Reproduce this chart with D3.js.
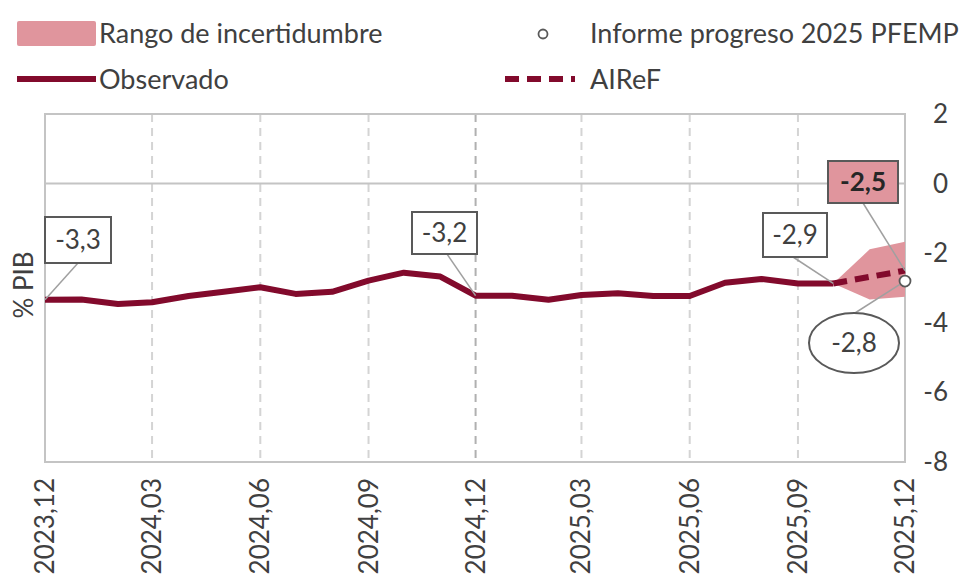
<!DOCTYPE html>
<html>
<head>
<meta charset="utf-8">
<script src="https://cdn.jsdelivr.net/npm/d3@7"></script>
<style>
  body { margin: 0; background: #fff; }
  text { font-family: Lato, 'Open Sans', sans-serif; fill: #404040; }
</style>
</head>
<body>
<script>
/* DATA */
var months = ['2023-12','2024-01','2024-02','2024-03','2024-04','2024-05','2024-06','2024-07','2024-08','2024-09','2024-10','2024-11','2024-12',
              '2025-01','2025-02','2025-03','2025-04','2025-05','2025-06','2025-07','2025-08','2025-09','2025-10','2025-11','2025-12'];
var observado = [-3.34,-3.33,-3.46,-3.41,-3.23,-3.11,-2.98,-3.17,-3.11,-2.79,-2.56,-2.67,-3.22,
                 -3.22,-3.34,-3.2,-3.15,-3.23,-3.23,-2.85,-2.74,-2.87,-2.87];
var airefMonths = ['2025-10','2025-11','2025-12'];
var airef = [-2.87,-2.68,-2.5];
var bandLow = [-2.87,-3.33,-3.25];
var bandHigh = [-2.87,-1.89,-1.67];
var informeMonth = '2025-12';
var informeValue = -2.8;
var tickMonths = ['2023-12','2024-03','2024-06','2024-09','2024-12','2025-03','2025-06','2025-09','2025-12'];
var yTicks = [2,0,-2,-4,-6,-8];

var lineColor = '#820a2c';
var bandColor = '#e0959d';
var gridColor = '#d4d4d4';
var borderColor = '#c4c4c4';
var fontSize = 26;
var legendFontSize = 27;

/* SETUP */
var width = 968, height = 577;
var plotLeft = 45, plotRight = 905, plotTop = 114, plotBottom = 462;

var parse = d3.timeParse('%Y-%m');
var x = d3.scaleTime()
    .domain([parse(months[0]), parse(months[months.length - 1])])
    .range([plotLeft, plotRight]);
var y = d3.scaleLinear().domain([-8, 2]).range([plotBottom, plotTop]);
var fmt = v => d3.format('.1f')(v).replace('.', ',').replace('\u2212', '-');

var svg = d3.select('body').append('svg')
    .attr('width', width)
    .attr('height', height);

// vertical dashed gridlines
svg.append('g').selectAll('line').data(tickMonths.slice(1, -1)).join('line')
    .attr('x1', d => x(parse(d))).attr('x2', d => x(parse(d)))
    .attr('y1', plotTop).attr('y2', plotBottom)
    .attr('stroke', d => d === '2024-12' ? '#b0b0b0' : gridColor)
    .attr('stroke-width', 2)
    .attr('stroke-dasharray', '8,6');

// zero line
svg.append('line')
    .attr('x1', plotLeft).attr('x2', plotRight)
    .attr('y1', y(0)).attr('y2', y(0))
    .attr('stroke', borderColor).attr('stroke-width', 2);

// plot border
svg.append('rect')
    .attr('x', plotLeft).attr('y', plotTop)
    .attr('width', plotRight - plotLeft).attr('height', plotBottom - plotTop)
    .attr('fill', 'none').attr('stroke', borderColor).attr('stroke-width', 2);

// uncertainty band
var bandData = airefMonths.map((m, i) => ({m: parse(m), lo: bandLow[i], hi: bandHigh[i]}));
svg.append('path')
    .datum(bandData)
    .attr('fill', bandColor)
    .attr('d', d3.area().x(d => x(d.m)).y0(d => y(d.lo)).y1(d => y(d.hi)));

// observed line
var obsData = observado.map((v, i) => ({m: parse(months[i]), v: v}));
var lineGen = d3.line().x(d => x(d.m)).y(d => y(d.v));
svg.append('path')
    .datum(obsData)
    .attr('fill', 'none')
    .attr('stroke', lineColor)
    .attr('stroke-width', 6)
    .attr('stroke-linejoin', 'round')
    .attr('d', lineGen);

// AIReF dashed
var airefData = airef.map((v, i) => ({m: parse(airefMonths[i]), v: v}));
svg.append('path')
    .datum(airefData)
    .attr('fill', 'none')
    .attr('stroke', lineColor)
    .attr('stroke-width', 6)
    .attr('stroke-dasharray', '14,8')
    .attr('d', lineGen);

// leader lines
function leader(x1, y1, x2, y2) {
    svg.append('line')
        .attr('x1', x1).attr('y1', y1).attr('x2', x2).attr('y2', y2)
        .attr('stroke', '#a0a0a0').attr('stroke-width', 1.5);
}
leader(78, 263, x(parse(months[0])), y(observado[0]));
leader(447, 254, x(parse('2024-12')), y(observado[12]));
leader(793, 257, x(parse('2025-10')), y(observado[22]));
leader(863, 203, x(parse('2025-12')), y(airef[2]));
leader(855, 313, x(parse(informeMonth)), y(informeValue));

// informe marker
svg.append('circle')
    .attr('cx', x(parse(informeMonth))).attr('cy', y(informeValue))
    .attr('r', 5.5)
    .attr('fill', '#fff').attr('stroke', '#595959').attr('stroke-width', 1.8);

// boxed labels
function boxLabel(x0, y0, w, h, txt, fill, bold) {
    svg.append('rect')
        .attr('x', x0).attr('y', y0).attr('width', w).attr('height', h)
        .attr('fill', fill).attr('stroke', '#595959').attr('stroke-width', 2);
    svg.append('text')
        .attr('x', x0 + w / 2).attr('y', y0 + h / 2 + 9)
        .attr('text-anchor', 'middle')
        .style('font-size', fontSize + 'px')
        .style('font-weight', bold ? 'bold' : 'normal')
        .style('fill', bold ? '#262626' : '#404040')
        .text(txt);
}
boxLabel(45, 217, 66, 46, fmt(observado[0]), '#fff');
boxLabel(412, 212, 65, 42, fmt(observado[12]), '#fff');
boxLabel(763, 213, 64, 44, fmt(observado[22]), '#fff');
boxLabel(828, 161, 70, 42, fmt(airef[2]), bandColor, true);

svg.append('ellipse')
    .attr('cx', 854).attr('cy', 343).attr('rx', 45).attr('ry', 30)
    .attr('fill', '#fff').attr('stroke', '#595959').attr('stroke-width', 2);
svg.append('text')
    .attr('x', 854).attr('y', 352)
    .attr('text-anchor', 'middle')
    .style('font-size', fontSize + 'px')
    .text(fmt(informeValue));

// y axis (right)
svg.append('g').selectAll('text').data(yTicks).join('text')
    .attr('x', 948).attr('y', d => y(d) + 9)
    .attr('text-anchor', 'end')
    .style('font-size', fontSize + 'px')
    .text(d => String(d));

// x axis labels rotated
svg.append('g').selectAll('text').data(tickMonths).join('text')
    .attr('transform', d => `translate(${x(parse(d)) + 9}, 478) rotate(-90)`)
    .attr('text-anchor', 'end')
    .style('font-size', fontSize + 'px')
    .text(d => d.replace('-', ','));

// y title
svg.append('text')
    .attr('transform', 'translate(33, 285) rotate(-90)')
    .attr('text-anchor', 'middle')
    .style('font-size', fontSize + 'px')
    .text('% PIB');

// legend
var legend = svg.append('g');
legend.append('rect')
    .attr('x', 17).attr('y', 21).attr('width', 79).attr('height', 25)
    .attr('rx', 2).attr('fill', bandColor);
legend.append('text').attr('x', 99).attr('y', 43).style('font-size', legendFontSize + 'px').text('Rango de incertidumbre');
legend.append('circle').attr('cx', 543).attr('cy', 34).attr('r', 4.5)
    .attr('fill', '#fff').attr('stroke', '#595959').attr('stroke-width', 1.8);
legend.append('text').attr('x', 590).attr('y', 43).style('font-size', legendFontSize + 'px').text('Informe progreso 2025 PFEMP');
legend.append('line').attr('x1', 17).attr('x2', 96).attr('y1', 79).attr('y2', 79)
    .attr('stroke', lineColor).attr('stroke-width', 6);
legend.append('text').attr('x', 99).attr('y', 89).style('font-size', legendFontSize + 'px').text('Observado');
legend.append('line').attr('x1', 505).attr('x2', 575).attr('y1', 79).attr('y2', 79)
    .attr('stroke', lineColor).attr('stroke-width', 6).attr('stroke-dasharray', '14,8');
legend.append('text').attr('x', 590).attr('y', 89).style('font-size', legendFontSize + 'px').text('AIReF');
</script>
</body>
</html>
